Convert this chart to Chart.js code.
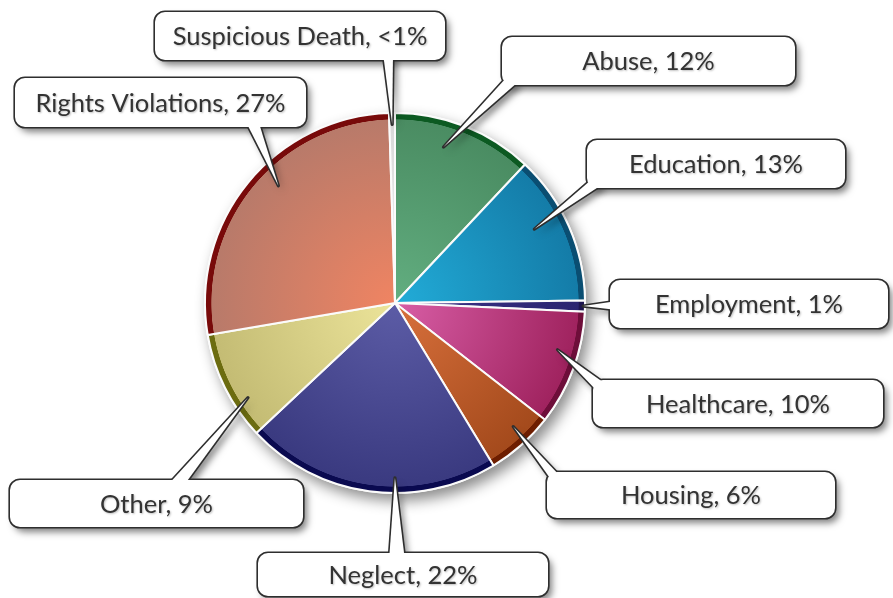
<!DOCTYPE html>
<html>
<head>
<meta charset="utf-8">
<script src="https://cdn.jsdelivr.net/npm/chart.js@4/dist/chart.umd.min.js"></script>
<style>
  html, body { margin:0; padding:0; background:#fff; }
  canvas { display:block; }
</style>
</head>
<body>
<canvas id="pie" width="893" height="598"></canvas>
<script>
// data (slice shares in %, clockwise from 12 o'clock)
const categories = ['Abuse','Education','Employment','Healthcare','Housing','Neglect','Other','Rights Violations','Suspicious Death'];
const shares = [12.0, 12.8, 0.95, 9.8, 5.8, 21.7, 9.3, 27.2, 0.5];
const shareLabels = ['12%','13%','1%','10%','6%','22%','9%','27%','<1%'];

// colours: near the centre, near the edge, outer rim
const innerColors = ['#62ae80','#22acd8','#3c3488','#d85ea6','#d8703c','#5c5ca6','#ece49a','#f08462','#f4f4f4'];
const outerColors = ['#4a8c62','#147ca8','#2a2470','#a0235f','#a44a1c','#3a3a80','#c4bc74','#b87a6a','#d8d8d8'];
const rimColors   = ['#0c5a22','#0a4e72','#1c1450','#6e0e3a','#6e1e00','#0a0a50','#6c6c10','#780a0a','#9a9a9a'];

// callout layout: box [x,y,w,h], tail base points, where the tail tip sits in its slice
const callouts = [
  {box:[502,37,293,48],  base:[[506,78],[518,82]],  f:0.40, rf:0.86},
  {box:[587,140,258,48], base:[[591,180],[603,184]], f:0.41, rf:0.83},
  {box:[610,280,278,48], base:[[617,301],[617,310]], f:0.50, rf:0.99},
  {box:[593,380,290,47], base:[[597,391],[607,385]], f:0.38, rf:0.89},
  {box:[547,472,288,46], base:[[552,481],[561,477]], f:0.40, rf:0.90},
  {box:[258,553,290,43], base:[[389,561],[405,561]], f:0.40, rf:0.92},
  {box:[10,480,293,47],  base:[[165,488],[182,488]], f:0.31, rf:0.92},
  {box:[15,78,291,49],   base:[[245,120],[258,120]], f:0.56, rf:0.87},
  {box:[155,12,290,48],  base:[[383,53],[393,53]],  f:0.50, rf:0.94}
];

function sliceFill(c){
  const chart = c.chart, a = chart.chartArea;
  if(!a) return innerColors[c.dataIndex];
  const cx = (a.left + a.right)/2, cy = (a.top + a.bottom)/2;
  const ctrl = chart.getDatasetMeta(0).controller;
  const r = (ctrl && ctrl.outerRadius) || Math.min(a.right-a.left, a.bottom-a.top)/2;
  const g = chart.ctx.createRadialGradient(cx, cy, 0, cx, cy, r);
  const i = c.dataIndex;
  g.addColorStop(0, innerColors[i]);
  g.addColorStop(0.965, outerColors[i]);
  g.addColorStop(0.968, rimColors[i]);
  g.addColorStop(1, rimColors[i]);
  return g;
}

// soft shadow behind the pie
const pieShadow = {
  id:'pieShadow',
  beforeDatasetsDraw(chart){
    const arc = chart.getDatasetMeta(0).data[0];
    if(!arc) return;
    const ctx = chart.ctx;
    ctx.save();
    ctx.shadowColor = 'rgba(0,0,0,0.45)';
    ctx.shadowBlur = 14;
    ctx.shadowOffsetX = 5;
    ctx.shadowOffsetY = 7;
    ctx.fillStyle = '#fff';
    ctx.beginPath();
    ctx.arc(arc.x, arc.y, arc.outerRadius + 1, 0, Math.PI*2);
    ctx.fill();
    ctx.restore();
  }
};

function drawCallout(ctx, c, tip, text){
  const [x,y,w,h] = c.box;
  const rect = () => { ctx.beginPath(); ctx.roundRect(x, y, w, h, 10); };
  const tail = () => {
    ctx.beginPath();
    ctx.moveTo(c.base[0][0], c.base[0][1]);
    ctx.lineTo(tip.x, tip.y);
    ctx.lineTo(c.base[1][0], c.base[1][1]);
    ctx.closePath();
  };
  ctx.save();
  ctx.fillStyle = '#fff';
  ctx.shadowColor = 'rgba(0,0,0,0.5)';
  ctx.shadowBlur = 7;
  ctx.shadowOffsetX = 4;
  ctx.shadowOffsetY = 5;
  rect(); ctx.fill();
  tail(); ctx.fill();
  ctx.restore();

  ctx.save();
  ctx.strokeStyle = '#2e2e2e';
  ctx.lineWidth = 3.2;
  ctx.lineJoin = 'round';
  rect(); ctx.stroke();
  tail(); ctx.stroke();
  ctx.fillStyle = '#fff';
  rect(); ctx.fill();
  tail(); ctx.fill();

  ctx.font = '25.5px Lato';
  ctx.fillStyle = '#333';
  ctx.textAlign = 'center';
  ctx.textBaseline = 'middle';
  ctx.shadowColor = 'rgba(0,0,0,0.25)';
  ctx.shadowBlur = 2;
  ctx.shadowOffsetX = 1;
  ctx.shadowOffsetY = 1;
  ctx.fillText(text, x + w/2, y + h/2 + 1);
  ctx.restore();
}

const calloutPlugin = {
  id:'callouts',
  afterDraw(chart){
    const meta = chart.getDatasetMeta(0);
    const ctx = chart.ctx;
    meta.data.forEach((arc, i) => {
      const c = callouts[i];
      if(!c) return;
      const a = arc.startAngle + c.f*(arc.endAngle - arc.startAngle);
      const tip = { x: arc.x + Math.cos(a)*c.rf*arc.outerRadius, y: arc.y + Math.sin(a)*c.rf*arc.outerRadius };
      drawCallout(ctx, c, tip, categories[i] + ', ' + shareLabels[i]);
    });
  }
};

new Chart(document.getElementById('pie'), {
  type:'pie',
  data:{
    labels: categories,
    datasets:[{
      data: shares,
      backgroundColor: sliceFill,
      borderColor: '#fbfbfb',
      borderWidth: 2
    }]
  },
  options:{
    responsive:false,
    animation:false,
    layout:{ padding:{ left:204, right:307, top:112, bottom:104 } },
    plugins:{ legend:{display:false}, tooltip:{enabled:false} }
  },
  plugins:[pieShadow, calloutPlugin]
});
</script>
</body>
</html>
